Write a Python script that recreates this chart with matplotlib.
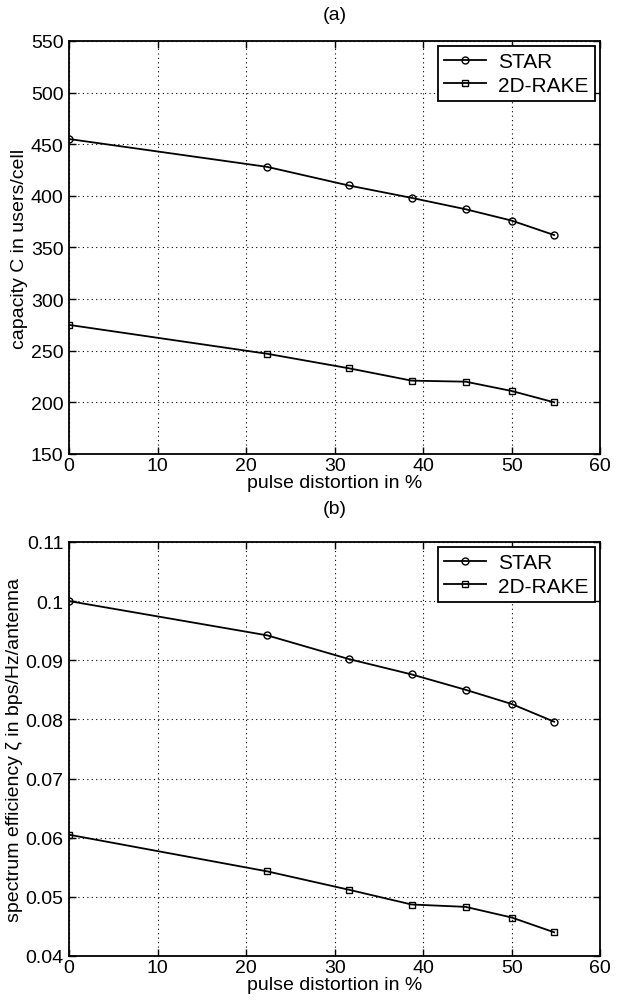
import numpy as np
import matplotlib
matplotlib.use("Agg")
import matplotlib.pyplot as plt

plt.rcParams["font.family"] = ["Liberation Sans", "DejaVu Sans"]
plt.rcParams["font.size"] = 14

distortion = [0, 22.4, 31.6, 38.7, 44.8, 50.0, 54.8]
capacity_star = [455, 428, 410, 398, 387, 376, 362]
capacity_rake = [275, 247, 233, 221, 220, 211, 200]
efficiency_star = [0.1, 0.0942, 0.0902, 0.0876, 0.085, 0.0826, 0.0796]
efficiency_rake = [0.0605, 0.0543, 0.0512, 0.0487, 0.0483, 0.0465, 0.044]


def style_axes(ax):
    ax.set_xlim(0, 60)
    ax.set_xticks(np.arange(0, 61, 10))
    ax.grid(True, linestyle=(0, (1, 3)), color="black", linewidth=0.8)
    ax.tick_params(direction="in", length=5, width=1, top=True, right=True,
                   labelsize=14)
    ax.tick_params(axis="x", pad=2)
    ax.tick_params(axis="y", pad=4)
    for s in ax.spines.values():
        s.set_linewidth(1.3)
    ax.set_xlabel("pulse distortion in %", labelpad=0, fontsize=14)
    leg = ax.legend(loc="upper right", fancybox=False, edgecolor="black",
                    framealpha=1, borderaxespad=0.25, handlelength=2.0,
                    fontsize=15, borderpad=0.3, labelspacing=0.2,
                    handletextpad=0.6)
    leg.get_frame().set_linewidth(1.3)


fig = plt.figure(figsize=(6.17, 10.03), dpi=100)
ax1 = fig.add_axes([0.1118, 0.5464, 0.861, 0.4118])
ax2 = fig.add_axes([0.1118, 0.0459, 0.861, 0.4128])

ax1.plot(distortion, capacity_star, "k-", marker="o", mfc="none", ms=5, lw=1.3, label="STAR")
ax1.plot(distortion, capacity_rake, "k-", marker="s", mfc="none", ms=4.5, lw=1.3, label="2D-RAKE")
ax1.set_ylim(150, 550)
ax1.set_yticks(np.arange(150, 551, 50))
ax1.set_ylabel("capacity C in users/cell", labelpad=2, fontsize=14)
ax1.set_title("(a)", fontsize=14, pad=16)
style_axes(ax1)

ax2.plot(distortion, efficiency_star, "k-", marker="o", mfc="none", ms=5, lw=1.3, label="STAR")
ax2.plot(distortion, efficiency_rake, "k-", marker="s", mfc="none", ms=4.5, lw=1.3, label="2D-RAKE")
ax2.set_ylim(0.04, 0.11)
ax2.set_yticks(np.arange(0.04, 0.111, 0.01))
ax2.set_yticklabels(["0.04", "0.05", "0.06", "0.07", "0.08", "0.09", "0.1", "0.11"])
ax2.set_ylabel("spectrum efficiency ζ in bps/Hz/antenna", labelpad=2, fontsize=14)
ax2.set_title("(b)", fontsize=14, pad=21)
style_axes(ax2)

fig.savefig("out.png", dpi=100)
